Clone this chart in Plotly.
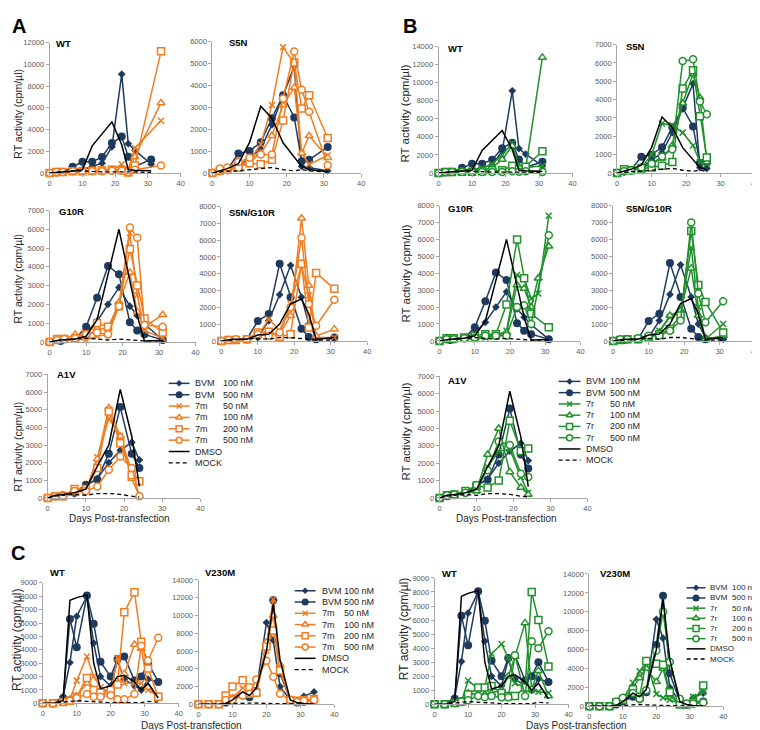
import plotly.graph_objects as go

W, H = 760, 730
NAVY = "#1F3A5F"
ORANGE = "#F07D22"
GREEN = "#21912B"
FONT = "Liberation Sans, Arial, sans-serif"
TICKC = "#595959"
AXC = "#A6A6A6"

# ---------------- DATA ----------------
# WT (panels A/B top-left)
WT_DAYS = [0, 2, 4, 7, 10, 13, 16, 19, 22, 24, 26, 31]
WT_BVM100 = [0, 50, 100, 400, 300, 600, 900, 2400, 9100, 2700, 2100, 800]
WT_BVM500 = [0, 50, 100, 570, 1030, 1030, 1480, 2750, 3350, 1500, 600, 1250]
WT_DMSO = [0, 50, 100, 150, 300, 2500, 3600, 4700, 2600, 300, 250, 200]
WT_MOCK = [0, 100, 150, 200, 200, 150, 100, 100, 150, 100, 100, 50]
A_WT_DAYS = [0, 2, 4, 7, 10, 13, 16, 19, 22, 24, 26, 34]
A_WT_7M50 = [0, 50, 100, 100, 150, 200, 250, 300, 800, 300, 2300, 4800]
A_WT_7M100 = [0, 50, 100, 100, 150, 200, 250, 300, 300, 200, 1500, 6450]
A_WT_7M200 = [0, 100, 100, 150, 150, 200, 250, 300, 250, 50, 700, 11200]
A_WT_7M500 = [0, 100, 100, 150, 150, 150, 150, 200, 200, 100, 300, 700]
B_WT_DAYS = [0, 2, 4, 7, 10, 13, 16, 19, 22, 24, 26, 31]
B_WT_7R50 = [0, 50, 100, 100, 200, 500, 1000, 2000, 3300, 500, 600, 800]
B_WT_7R100 = [0, 50, 100, 100, 200, 300, 600, 1500, 3000, 700, 500, 12800]
B_WT_7R200 = [0, 100, 100, 150, 150, 200, 300, 300, 800, 400, 700, 2400]
B_WT_7R500 = [0, 100, 100, 100, 100, 100, 100, 100, 200, 150, 200, 100]

# S5N
S5N_DAYS = [0, 2, 4, 7, 10, 13, 16, 19, 22, 24, 26, 31]
S5N_BVM100 = [0, 50, 100, 300, 700, 1100, 2200, 3500, 4870, 300, 250, 100]
S5N_BVM500 = [0, 100, 150, 890, 1000, 1400, 2500, 3550, 2540, 540, 600, 1190]
S5N_DMSO = [0, 100, 200, 430, 1400, 3050, 2500, 1380, 740, 290, 160, 60]
S5N_MOCK = [0, 50, 80, 100, 150, 200, 250, 150, 100, 150, 100, 50]
A_S5N_7M50 = [0, 100, 150, 300, 600, 1300, 3100, 5750, 5000, 900, 400, 800]
A_S5N_7M100 = [0, 100, 150, 300, 500, 900, 1700, 3100, 3900, 900, 1700, 700]
A_S5N_7M200 = [0, 100, 150, 250, 450, 400, 600, 2400, 5050, 2950, 3550, 1600]
A_S5N_7M500 = [0, 200, 250, 500, 700, 850, 850, 3400, 5550, 3800, 2800, 350]
B_S5N_DAYS = [0, 2, 4, 7, 10, 13, 16, 19, 22, 24, 26]
B_S5N_7R50 = [0, 100, 150, 300, 1000, 2700, 2600, 2200, 1500, 600, 500]
B_S5N_7R100 = [0, 100, 150, 300, 500, 800, 1500, 3800, 5400, 4100, 600]
B_S5N_7R200 = [0, 200, 150, 250, 300, 400, 600, 4600, 5600, 3100, 850]
B_S5N_7R500 = [0, 100, 150, 300, 500, 900, 1300, 6100, 6200, 3900, 3200]

# G10R
G10R_DAYS = [0, 3, 7, 10, 13, 16, 19, 22, 24, 26, 31]
G10R_BVM100 = [0, 50, 150, 500, 1100, 2000, 2900, 1900, 1400, 950, 100]
G10R_BVM500 = [0, 50, 150, 800, 2350, 4050, 3600, 1050, 600, 400, 100]
G10R_DMSO = [0, 100, 150, 300, 1180, 3600, 6000, 3250, 1400, 50, 80]
G10R_MOCK = [0, 100, 150, 200, 150, 100, 150, 100, 50, 50, 50]
A_G10R_DAYS = [0, 2, 4, 7, 10, 13, 16, 19, 22, 24, 26, 31]
A_G10R_7M50 = [0, 50, 100, 150, 100, 300, 400, 2000, 5800, 2500, 600, 200]
A_G10R_7M100 = [0, 100, 150, 400, 300, 700, 700, 2100, 3700, 1600, 800, 1450]
A_G10R_7M200 = [0, 150, 150, 200, 400, 1000, 800, 1900, 4950, 3000, 1250, 500]
A_G10R_7M500 = [0, 100, 150, 200, 400, 500, 400, 1900, 6100, 5550, 900, 800]
B_G10R_DAYS = [0, 2, 4, 7, 10, 13, 16, 19, 22, 24, 26, 28, 31]
B_G10R_7R50 = [0, 100, 100, 150, 100, 200, 300, 600, 3900, 3700, 2500, 2800, 7400]
B_G10R_7R100 = [0, 100, 100, 150, 150, 300, 300, 500, 3300, 3100, 2000, 3700, 5600]
B_G10R_7R200 = [0, 150, 150, 200, 300, 400, 400, 2150, 6000, 3700, 1600, None, 800]
B_G10R_7R500 = [0, 100, 100, 150, 200, 300, 300, 300, 2000, 2100, 1000, None, 6250]

# S5N/G10R
SG_DAYS = [0, 3, 7, 10, 13, 16, 19, 22, 24, 26, 31]
SG_BVM100 = [0, 50, 100, 200, 1200, 2750, 4500, 2600, 1000, 200, 100]
SG_BVM500 = [0, 50, 100, 1180, 1600, 4600, 2600, 720, 230, 100, 200]
SG_DMSO = [0, 100, 100, 350, 400, 1000, 2200, 2500, 1600, 100, 200]
SG_MOCK = [0, 50, 100, 150, 100, 200, 200, 150, 100, 50, 50]
SG_7_DAYS = [0, 2, 4, 7, 10, 13, 16, 19, 22, 24, 26, 31]
A_SG_7M50 = [0, 50, 50, 100, 300, 1300, 600, 2200, 4500, 2700, 200, 200]
A_SG_7M100 = [0, 50, 50, 100, 300, 500, 400, 1500, 7300, 3300, 300, 700]
A_SG_7M200 = [0, 50, 50, 100, 500, 550, 250, 400, 4600, 800, 4050, 3100]
A_SG_7M500 = [0, 50, 100, 100, 400, 300, 500, 2000, 6150, 2200, 900, 2450]
B_SG_7R50 = [0, 50, 100, 100, 200, 600, 1400, 1700, 5500, 2000, 100, 1000]
B_SG_7R100 = [0, 50, 100, 100, 200, 500, 1500, 1800, 4300, 1500, 100, 300]
B_SG_7R200 = [0, 50, 100, 100, 200, 400, 700, 1500, 6500, 3300, 2300, 500]
B_SG_7R500 = [0, 100, 100, 150, 300, 300, 600, 1200, 7000, 2800, 1100, 2350]

# A1V
A1V_DAYS = [0, 2, 4, 7, 10, 13, 16, 19, 22, 24]
A1V_BVM100 = [0, 100, 150, 250, 700, 1100, 2000, 2700, 3150, 2150]
A1V_BVM500 = [0, 100, 150, 300, 750, 1050, 2500, 5150, 2500, 1700]
A1V_DMSO = [0, 150, 200, 300, 500, 1800, 3000, 6150, 3500, 650]
A1V_MOCK = [0, 100, 150, 200, 150, 250, 250, 200, 100, 50]
A_A1V_7M50 = [0, 100, 100, 300, 400, 2300, 4500, 3500, 1500, 1000]
A_A1V_7M100 = [0, 100, 150, 400, 400, 2200, 5100, 3500, 1100, 100]
A_A1V_7M200 = [0, 100, 100, 500, 500, 1700, 4900, 3100, 1300, 950]
A_A1V_7M500 = [0, 100, 100, 400, 400, 650, 1600, 2350, 1700, 100]
B_A1V_7R50 = [0, 100, 150, 300, 400, 1800, 2700, 2800, 1200, 300]
B_A1V_7R100 = [0, 100, 150, 300, 400, 2500, 4000, 1500, 600, 200]
B_A1V_7R200 = [0, 150, 200, 400, 700, 600, 1000, 4450, 2700, 2850]
B_A1V_7R500 = [0, 150, 200, 300, 750, 1600, 3250, 3050, 1400, 1200]

# Panel C
C_DAYS = [0, 3, 6, 8, 10, 13, 15, 17, 20, 22, 24, 27, 29, 31, 34]
CWT_BVM100 = [0, 0, 500, 3050, 6500, 8000, 4500, 2000, 1300, 3200, 1800, 1300, 1000, 1800, 1600]
CWT_BVM500 = [0, 0, 400, 6300, 4200, 8050, 5950, 3100, 2000, 3300, 3500, 1700, 2000, 3000, 1600]
CWT_DMSO = [0, 0, 200, 7700, 7900, 8100, 3000, 1100, 1300, 2000, 2100, 1600, 1000, 1500, 400]
CWT_MOCK = [0, 0, 100, 150, 200, 150, 100, 100, 50, 50, 50, 50, 50, 150, 100]
CWT_7M50 = [0, 0, 100, 300, 1700, 3500, 2000, 1200, 800, 3400, 1500, 1500, 1500, 1000, 500]
CWT_7M100 = [0, 0, 100, 300, 500, 1500, 1000, 700, 800, 1500, 2200, 4400, 4100, 1200, 500]
CWT_7M200 = [0, 0, 100, 200, 500, 1900, 1000, 800, 1000, 1400, 6800, 8300, 4600, 2600, 500]
CWT_7M500 = [0, 0, 100, 200, 400, 700, 500, 500, 600, 300, 300, 700, 4300, 3200, 4900]
CWT_7R50 = [0, 0, 100, 200, 1700, 1100, 1200, 3600, 4300, 3300, 1500, 1200, 1000, 900, 800]
CWT_7R100 = [0, 0, 100, 200, 800, 700, 700, 800, 1000, 2000, 3400, 5800, 1100, 2400, 600]
CWT_7R200 = [0, 0, 100, 200, 700, 1200, 1200, 1300, 800, 600, 600, 1200, 8000, 6000, 2700]
CWT_7R500 = [0, 0, 100, 200, 300, 600, 500, 600, 500, 500, 3500, 600, 4500, 4000, 5200]
V_BVM100 = [0, 0, 0, 200, 600, 1200, 1000, 1500, 9200, 7200, 2000, 500, 200, 900, 1400]
V_BVM500 = [0, 0, 0, 200, 500, 1000, 800, 1500, 6500, 11700, 3500, 500, 200, 300, 500]
V_DMSO = [0, 0, 0, 100, 500, 1400, 1000, 1800, 6000, 11300, 5000, 500, 200, 100, 0]
V_MOCK = [0, 0, 0, 50, 100, 150, 200, 150, 100, 100, 100, 50, 50, 50, 50]
V_7M50 = [0, 0, 0, 300, 800, 1800, 1200, 1500, 6000, 11800, 4000, 500, 300, 500, 500]
V_7M100 = [0, 0, 0, 300, 700, 1500, 1000, 1200, 7000, 10000, 4500, 500, 300, 400, 600]
V_7M200 = [0, 0, 0, 1000, 2000, 2700, 1900, 1300, 6500, 8300, 3800, 500, 400, 500, 600]
V_7M500 = [0, 0, 0, 500, 500, 1000, 1200, 2800, 4900, 3100, 1200, 500, 300, 400, 500]
V_7R50 = [0, 0, 0, 300, 800, 2500, 3700, 4700, 1300, 900, 700, 300, 200, 1000, 1500]
V_7R100 = [0, 0, 0, 300, 600, 2000, 3000, 4000, 2600, 4000, 1200, 200, 200, 500, 500]
V_7R200 = [0, 0, 0, 400, 700, 1800, 1000, 4800, 4500, 4400, 1500, 200, 200, 400, 2200]
V_7R500 = [0, 0, 0, 500, 900, 1400, 800, 1700, 5900, 10000, 4700, 800, 300, 300, 400]

LEG_ORANGE = [("BVM", "100 nM"), ("BVM", "500 nM"), ("7m", "50 nM"), ("7m", "100 nM"),
              ("7m", "200 nM"), ("7m", "500 nM"), ("DMSO", ""), ("MOCK", "")]
LEG_GREEN = [("BVM", "100 nM"), ("BVM", "500 nM"), ("7r", "50 nM"), ("7r", "100 nM"),
             ("7r", "200 nM"), ("7r", "500 nM"), ("DMSO", ""), ("MOCK", "")]
KINDS = ["b100", "b500", "c50", "c100", "c200", "c500", "dmso", "mock"]

# ---------------- FIGURE ----------------
fig = go.Figure()


def P(x):
    return x / W


def Q(y):
    return 1 - y / H


axn = [0]


def style(kind, col):
    if kind == "b100":
        return dict(mode="lines+markers", line=dict(color=NAVY, width=1.5),
                    marker=dict(symbol="diamond", size=6, color=NAVY))
    if kind == "b500":
        return dict(mode="lines+markers", line=dict(color=NAVY, width=1.5),
                    marker=dict(symbol="circle", size=8, color=NAVY))
    if kind == "c50":
        return dict(mode="lines+markers", line=dict(color=col, width=1.5),
                    marker=dict(symbol="x-thin", size=6, color=col, line=dict(color=col, width=1.5)))
    if kind in ("c100", "c200", "c500"):
        sym = {"c100": "triangle-up", "c200": "square", "c500": "circle"}[kind]
        return dict(mode="lines+markers", line=dict(color=col, width=1.5),
                    marker=dict(symbol=sym, size=7, color="white", line=dict(color=col, width=1.5)))
    if kind == "dmso":
        return dict(mode="lines", line=dict(color="black", width=1.5))
    return dict(mode="lines", line=dict(color="black", width=1.3, dash="4px,3px"))


def panel(x0, x1, ytop, ybot, ymax, dtick, title, tx, ty):
    axn[0] += 1
    n = axn[0]
    s = "" if n == 1 else str(n)
    common = dict(showline=True, linecolor=AXC, linewidth=1, ticks="outside", ticklen=3,
                  tickcolor=AXC, showgrid=False, zeroline=False, tickformat="d",
                  tickfont=dict(size=7.5, color=TICKC, family=FONT))
    fig.update_layout(**{
        "xaxis" + s: dict(domain=[P(x0), P(x1)], range=[0, 40], dtick=10, anchor="y" + s, **common),
        "yaxis" + s: dict(domain=[Q(ybot), Q(ytop)], range=[0, ymax], dtick=dtick, anchor="x" + s,
                          **common),
    })
    fig.add_annotation(x=P(tx), y=Q(ty), xref="paper", yref="paper", text="<b>" + title + "</b>",
                       xanchor="left", yanchor="middle", showarrow=False,
                       font=dict(size=9.5, color="black", family=FONT))
    return "x" + s, "y" + s


def series(ax, days, vals, kind, col=None):
    st = style(kind, col)
    fig.add_trace(go.Scatter(x=days, y=vals, xaxis=ax[0], yaxis=ax[1], connectgaps=True,
                             cliponaxis=False, showlegend=False, hoverinfo="skip", **st))


def controls(ax, days, b100, b500, dmso, mock, cseries, cdays, col):
    series(ax, days, b100, "b100")
    series(ax, days, b500, "b500")
    for k, v in zip(["c50", "c100", "c200", "c500"], cseries):
        series(ax, cdays, v, k, col)
    series(ax, days, dmso, "dmso")
    series(ax, days, mock, "mock")


# Row 1
ax = panel(40, 172, 31, 163, 12000, 2000, "WT", 44, 32)
controls(ax, WT_DAYS, WT_BVM100, WT_BVM500, WT_DMSO, WT_MOCK,
         [A_WT_7M50, A_WT_7M100, A_WT_7M200, A_WT_7M500], A_WT_DAYS, ORANGE)
ax = panel(204, 354, 30, 163, 6000, 1000, "S5N", 219, 31)
controls(ax, S5N_DAYS, S5N_BVM100, S5N_BVM500, S5N_DMSO, S5N_MOCK,
         [A_S5N_7M50, A_S5N_7M100, A_S5N_7M200, A_S5N_7M500], S5N_DAYS, ORANGE)
ax = panel(432, 567, 35, 163, 14000, 2000, "WT", 439, 37)
controls(ax, WT_DAYS, WT_BVM100, WT_BVM500, WT_DMSO, WT_MOCK,
         [B_WT_7R50, B_WT_7R100, B_WT_7R200, B_WT_7R500], B_WT_DAYS, GREEN)
nS = len(B_S5N_DAYS)
ax = panel(612, 751, 33, 163, 7000, 1000, "S5N", 619, 35)
controls(ax, B_S5N_DAYS, S5N_BVM100[:nS], S5N_BVM500[:nS], S5N_DMSO[:nS], S5N_MOCK[:nS],
         [B_S5N_7R50, B_S5N_7R100, B_S5N_7R200, B_S5N_7R500], B_S5N_DAYS, GREEN)

# Row 2
ax = panel(40, 187, 201, 334, 7000, 1000, "G10R", 47, 202)
controls(ax, G10R_DAYS, G10R_BVM100, G10R_BVM500, G10R_DMSO, G10R_MOCK,
         [A_G10R_7M50, A_G10R_7M100, A_G10R_7M200, A_G10R_7M500], A_G10R_DAYS, ORANGE)
ax = panel(213, 360, 197, 333, 8000, 1000, "S5N/G10R", 219, 203)
controls(ax, SG_DAYS, SG_BVM100, SG_BVM500, SG_DMSO, SG_MOCK,
         [A_SG_7M50, A_SG_7M100, A_SG_7M200, A_SG_7M500], SG_7_DAYS, ORANGE)
ax = panel(433, 575, 196, 333, 8000, 1000, "G10R", 439, 199)
controls(ax, G10R_DAYS, G10R_BVM100, G10R_BVM500, G10R_DMSO, G10R_MOCK,
         [B_G10R_7R50, B_G10R_7R100, B_G10R_7R200, B_G10R_7R500], B_G10R_DAYS, GREEN)
ax = panel(608, 751, 196, 333, 8000, 1000, "S5N/G10R", 619, 199)
controls(ax, SG_DAYS, SG_BVM100, SG_BVM500, SG_DMSO, SG_MOCK,
         [B_SG_7R50, B_SG_7R100, B_SG_7R200, B_SG_7R500], SG_7_DAYS, GREEN)

# Row 3
ax = panel(38, 192, 367, 492, 7000, 1000, "A1V", 45, 367)
controls(ax, A1V_DAYS, A1V_BVM100, A1V_BVM500, A1V_DMSO, A1V_MOCK,
         [A_A1V_7M50, A_A1V_7M100, A_A1V_7M200, A_A1V_7M500], A1V_DAYS, ORANGE)
ax = panel(433, 582, 369, 492, 7000, 1000, "A1V", 439, 373)
controls(ax, A1V_DAYS, A1V_BVM100, A1V_BVM500, A1V_DMSO, A1V_MOCK,
         [B_A1V_7R50, B_A1V_7R100, B_A1V_7R200, B_A1V_7R500], A1V_DAYS, GREEN)

# Row C
ax = panel(33, 170, 578, 700, 9000, 1000, "WT", 38, 567)
controls(ax, C_DAYS, CWT_BVM100, CWT_BVM500, CWT_DMSO, CWT_MOCK,
         [CWT_7M50, CWT_7M100, CWT_7M200, CWT_7M500], C_DAYS, ORANGE)
ax = panel(190, 327, 575, 701, 14000, 2000, "V230M", 195, 567)
controls(ax, C_DAYS, V_BVM100, V_BVM500, V_DMSO, V_MOCK,
         [V_7M50, V_7M100, V_7M200, V_7M500], C_DAYS, ORANGE)
ax = panel(428, 563, 573, 701, 9000, 1000, "WT", 433, 569)
controls(ax, C_DAYS, CWT_BVM100, CWT_BVM500, CWT_DMSO, CWT_MOCK,
         [CWT_7R50, CWT_7R100, CWT_7R200, CWT_7R500], C_DAYS, GREEN)
ax = panel(584, 719, 569, 703, 14000, 2000, "V230M", 593, 569)
controls(ax, C_DAYS, V_BVM100, V_BVM500, V_DMSO, V_MOCK,
         [V_7R50, V_7R100, V_7R200, V_7R500], C_DAYS, GREEN)

# Legend overlay axis in pixel units
axn[0] += 1
s = str(axn[0])
fig.update_layout(**{
    "xaxis" + s: dict(domain=[0, 1], range=[0, W], visible=False, anchor="y" + s),
    "yaxis" + s: dict(domain=[0, 1], range=[H, 0], visible=False, anchor="x" + s),
})
LX, LY = "x" + s, "y" + s


def legend(entries, col, kx0, kx1, t1, t2, y0, dy, fsize):
    for i, ((a, b), kind) in enumerate(zip(entries, KINDS)):
        yy = y0 + i * dy
        st = style(kind, col)
        fig.add_trace(go.Scatter(x=[kx0, kx1], y=[yy, yy], xaxis=LX, yaxis=LY, mode="lines",
                                 line=st["line"], showlegend=False, hoverinfo="skip"))
        if "marker" in st:
            m = dict(st["marker"])
            m["size"] = m["size"] - 1
            fig.add_trace(go.Scatter(x=[(kx0 + kx1) / 2], y=[yy], xaxis=LX, yaxis=LY, mode="markers",
                                     marker=m, showlegend=False, hoverinfo="skip"))
        fig.add_annotation(x=t1, y=yy, xref=LX, yref=LY, text=a, xanchor="left", yanchor="middle",
                           showarrow=False, font=dict(size=fsize, color="#262626", family=FONT))
        if b:
            fig.add_annotation(x=t2, y=yy, xref=LX, yref=LY, text=b, xanchor="left", yanchor="middle",
                               showarrow=False, font=dict(size=fsize, color="#262626", family=FONT))


legend(LEG_ORANGE, ORANGE, 160, 181, 184, 213, 376, 11.5, 9)
legend(LEG_GREEN, GREEN, 553, 575, 579, 603, 374, 11.4, 9)
legend(LEG_ORANGE, ORANGE, 287, 308, 312, 335, 586, 11.4, 9)
legend(LEG_GREEN, GREEN, 682, 701, 704, 726, 583, 10.3, 8)


def txt(x, y, t, size, angle=0, bold=False):
    fig.add_annotation(x=P(x), y=Q(y), xref="paper", yref="paper",
                       text=("<b>%s</b>" % t) if bold else t, textangle=angle, showarrow=False,
                       xanchor="center", yanchor="middle",
                       font=dict(size=size, color="black" if bold else "#262626", family=FONT))


YT = "RT activity (cpm/µl)"
txt(8, 103, YT, 10.5, -90)
txt(8, 270, YT, 10.5, -90)
txt(8, 440, YT, 10.5, -90)
txt(398, 103, YT, 11.5, -90)
txt(399, 265, YT, 11.5, -90)
txt(399, 425, YT, 11.5, -90)
txt(7, 636, YT, 12, -90)
txt(397, 625, YT, 12, -90)
XT = "Days Post-transfection"
txt(110, 513, XT, 10)
txt(500, 513, XT, 10)
txt(183, 722, XT, 10)
txt(571, 722, XT, 10)
txt(9, 14, "A", 20, bold=True)
txt(403, 14, "B", 20, bold=True)
txt(8, 548, "C", 20, bold=True)

fig.update_layout(width=W, height=H, margin=dict(l=0, r=0, t=0, b=0),
                  paper_bgcolor="white", plot_bgcolor="rgba(0,0,0,0)", showlegend=False,
                  font=dict(family=FONT))
fig.write_html("out.html")
